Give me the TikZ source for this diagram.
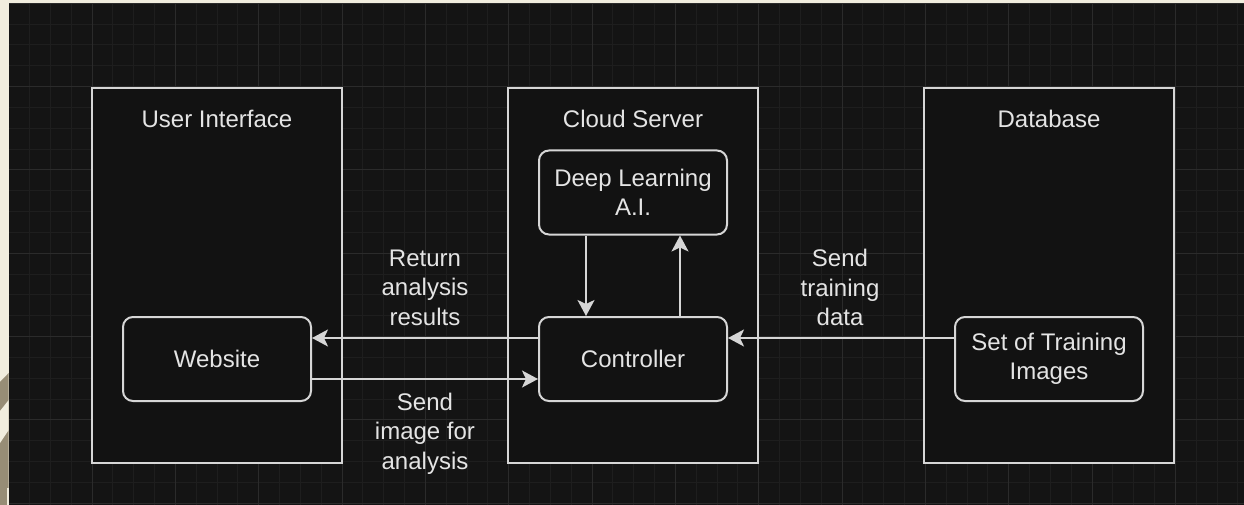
\documentclass[tikz,border=0pt]{standalone}
\usepackage{fontspec}
\setmainfont{Liberation Sans}
\usetikzlibrary{arrows.meta}
\definecolor{cream}{HTML}{F1EDDE}
\definecolor{tan}{HTML}{978D76}
\definecolor{bgdark}{HTML}{141414}
\definecolor{boxfill}{HTML}{121212}
\definecolor{gridminor}{HTML}{1E1E1E}
\definecolor{gridmajor}{HTML}{2B2B2B}
\definecolor{stroke}{HTML}{D6D6D6}
\definecolor{txt}{HTML}{E4E4E4}
\tikzset{
  container/.style={draw=stroke, fill=boxfill, line width=2pt, minimum width=250pt, minimum height=375pt, inner sep=0pt},
  roundbox/.style={draw=stroke, fill=boxfill, line width=2pt, rounded corners=10pt, minimum width=188pt, minimum height=84pt, inner sep=0pt, text=txt, align=center, font=\fontsize{24}{29.5}\selectfont},
  title/.style={text=txt, font=\fontsize{24}{29.5}\selectfont, inner sep=0pt},
  edgelabel/.style={text=txt, align=center, font=\fontsize{24}{29.5}\selectfont, inner sep=0pt},
  arr/.style={draw=stroke, line width=2pt, -{Stealth[length=16pt, width=17pt, inset=4pt]}}
}
\begin{document}
\begin{tikzpicture}[x=1pt, y=-1pt]
\useasboundingbox (0,0) rectangle (1244,505);
% page background
\fill[bgdark] (0,0) rectangle (1244,505);
% grid
\begin{scope}
  \clip (8.7,3.3) rectangle (1244,505);
  \foreach \i in {0,...,60} {
    \draw[gridminor, line width=1pt] ({8.7+\i*20.833},3.3) -- ({8.7+\i*20.833},505);
  }
  \foreach \j in {0,...,25} {
    \draw[gridminor, line width=1pt] (8.7,{3.3+\j*20.833}) -- (1244,{3.3+\j*20.833});
  }
  \foreach \i in {0,...,15} {
    \draw[gridmajor, line width=1pt] ({8.7+\i*83.333},3.3) -- ({8.7+\i*83.333},505);
  }
  \foreach \j in {0,...,6} {
    \draw[gridmajor, line width=1pt] (8.7,{3.3+\j*83.333}) -- (1244,{3.3+\j*83.333});
  }
\end{scope}
% cream margins
\fill[cream] (0,0) rectangle (1244,3.3);
\fill[cream] (0,0) rectangle (8.7,505);
\fill[tan] (0,382) -- (8.7,373) -- (8.7,505) -- (0,505) -- cycle;
\fill[cream] (0,411) -- (8.7,400) -- (8.7,430) -- (0,443) -- cycle;
\fill[cream] (7,488) rectangle (8.7,505);

% containers
\node[container] (ui) at (217,275.5) {};
\node[container] (cs) at (633,275.5) {};
\node[container] (db) at (1049,275.5) {};
\node[title] (uit) at (217,119) {User Interface};
\node[title] (cst) at (633,119) {Cloud Server};
\node[title] (dbt) at (1049,119) {Database};

% inner boxes
\node[roundbox] (web) at (217,359) {Website};
\node[roundbox] (dl) at (633,192.5) {Deep Learning\\A.I.};
\node[roundbox] (ctrl) at (633,359) {Controller};
\node[roundbox] (train) at (1049,359) {Set of Training\\Images};

% connectors
\draw[arr] ([yshift=21pt]ctrl.west) -- ([yshift=21pt]web.east);
\draw[arr] ([yshift=-20pt]web.east) -- ([yshift=-20pt]ctrl.west);
\draw[arr] ([yshift=21pt]train.west) -- ([yshift=21pt]ctrl.east);
\draw[arr] ([xshift=-47pt]dl.south) -- ([xshift=-47pt]ctrl.north);
\draw[arr] ([xshift=47pt]ctrl.north) -- ([xshift=47pt]dl.south);

% labels
\node[edgelabel] (lret) at (425,287.5) {Return\\analysis\\results};
\node[edgelabel] (lsend) at (425,433.5) {Send\\image for\\analysis};
\node[edgelabel] (ltrain) at (840,287.5) {Send\\training\\data};
\end{tikzpicture}
\end{document}
